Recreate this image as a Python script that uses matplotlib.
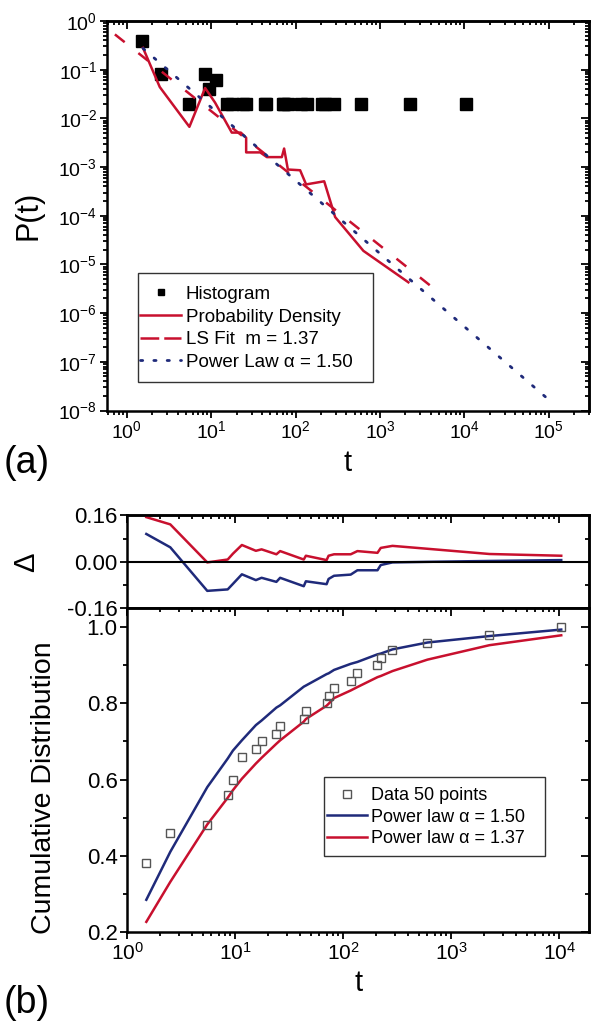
import matplotlib
matplotlib.use("Agg")
import matplotlib.pyplot as plt
from matplotlib.ticker import LogLocator, MultipleLocator, NullFormatter, FormatStrFormatter
from matplotlib.lines import Line2D
from matplotlib.patches import Rectangle

plt.rcParams['font.family'] = ['Liberation Sans', 'DejaVu Sans']
plt.rcParams['mathtext.fontset'] = 'custom'
plt.rcParams['mathtext.rm'] = 'Liberation Sans'
plt.rcParams['mathtext.default'] = 'regular'
plt.rcParams['axes.unicode_minus'] = False

RED = '#c8102e'
BLUE = '#1f2a7a'

# ---- panel (a) data ----
hist_t = [1.5, 2.5, 8.5, 9.5, 11.5, 5.5, 15.5, 17.5, 24, 26, 43, 45, 70, 73, 82,
          117, 135, 207, 222, 285, 600, 2250, 10400]
hist_p = [0.38, 0.08, 0.08, 0.04, 0.06, 0.02, 0.02, 0.02, 0.02, 0.02, 0.02, 0.02,
          0.02, 0.02, 0.02, 0.02, 0.02, 0.02, 0.02, 0.02, 0.02, 0.02, 0.02]

pd_t = [1.55, 2.45, 5.5, 8.45, 11.1, 17.5, 22.4, 25.9, 25.9, 38, 45.6, 68.6, 73,
        80.9, 113, 133, 218, 294, 636, 2170]
pd_p = [0.28, 0.044, 0.0067, 0.042, 0.021, 0.0051, 0.0051, 0.0040, 0.0020, 0.0020,
        0.0016, 0.0016, 0.0024, 0.00089, 0.00086, 0.00044, 0.00051, 9.4e-5, 1.9e-5, 4.3e-6]

ls_t = [0.72, 5000]
ls_p = [0.53, 2.65e-6]

pl_t = [1.55, 1e5]
pl_p = [0.274, 1.67e-8]

# ---- panel (b) data ----
cdf_t = [1.5, 2.5, 5.5, 8.5, 9.5, 11.5, 15.5, 17.5, 24, 26, 43, 45, 70, 73, 82,
         117, 135, 207, 222, 285, 600, 2250, 10400]
cdf_data = [0.38, 0.46, 0.48, 0.56, 0.60, 0.66, 0.68, 0.70, 0.72, 0.74, 0.76, 0.78,
            0.80, 0.82, 0.84, 0.86, 0.88, 0.90, 0.92, 0.94, 0.96, 0.98, 1.00]
fit_150 = [0.284, 0.410, 0.580, 0.655, 0.676, 0.703, 0.743, 0.755, 0.789, 0.795, 0.844,
           0.847, 0.877, 0.879, 0.888, 0.904, 0.909, 0.929, 0.931, 0.942, 0.960, 0.977, 0.994]
fit_137 = [0.226, 0.331, 0.482, 0.552, 0.572, 0.602, 0.642, 0.657, 0.694, 0.703, 0.752,
           0.759, 0.794, 0.799, 0.814, 0.834, 0.843, 0.869, 0.872, 0.885, 0.915, 0.953, 0.979]
delta_150 = [d - f for d, f in zip(cdf_data, fit_150)]
delta_137 = [d - f for d, f in zip(cdf_data, fit_137)]


def style(ax, tick_size):
    for s in ax.spines.values():
        s.set_linewidth(1.8)
    ax.tick_params(which='both', direction='out', width=1.3, labelsize=tick_size, pad=2)
    ax.tick_params(which='major', length=5)
    ax.tick_params(which='minor', length=3)
    # top and right ticks point inwards
    top = ax.secondary_xaxis('top')
    top.tick_params(which='both', direction='in', width=1.3, labeltop=False)
    top.tick_params(which='major', length=5.5)
    top.tick_params(which='minor', length=3)
    top.spines['top'].set_linewidth(1.8)
    right = ax.secondary_yaxis('right')
    right.tick_params(which='both', direction='in', width=1.3, labelright=False)
    right.tick_params(which='major', length=5.5)
    right.tick_params(which='minor', length=3)
    right.spines['right'].set_linewidth(1.8)
    return top, right


fig = plt.figure(figsize=(5.94, 10.23), dpi=100)

# ---------------- (a) ----------------
ax1 = fig.add_axes([0.1801, 0.5987, 0.8114, 0.3808])
ax1.set_xscale('log')
ax1.set_yscale('log')
ax1.plot(hist_t, hist_p, 's', color='black', markersize=9, zorder=3)
ax1.plot(pd_t, pd_p, '-', color=RED, lw=1.8, zorder=4)
ax1.plot(ls_t, ls_p, color=RED, lw=1.8, linestyle=(0, (5, 7)), zorder=4)
ax1.plot(pl_t, pl_p, color=BLUE, lw=2.0, linestyle=(0, (0.8, 4.5)), dash_capstyle='round', zorder=4)
ax1.set_xlim(0.58, 3.0e5)
ax1.set_ylim(1e-8, 1)
for axis in (ax1.xaxis, ax1.yaxis):
    axis.set_major_locator(LogLocator(base=10, numticks=20))
    axis.set_minor_locator(LogLocator(base=10, subs=range(2, 10), numticks=20))
    axis.set_minor_formatter(NullFormatter())
t1, r1 = style(ax1, 14)
for sec in (t1.xaxis, r1.yaxis):
    sec.set_major_locator(LogLocator(base=10, numticks=20))
    sec.set_minor_locator(LogLocator(base=10, subs=range(2, 10), numticks=20))
    sec.set_minor_formatter(NullFormatter())
ax1.set_ylabel('P(t)', fontsize=22)
ax1.yaxis.set_label_coords(-0.132, 0.5)
ax1.set_xlabel('t', fontsize=21)
ax1.xaxis.set_label_coords(0.5, -0.10)

handles_a = [
    Line2D([], [], marker='s', color='black', linestyle='none', markersize=4.5),
    Line2D([], [], color=RED, lw=1.8),
    Line2D([], [], color=RED, lw=1.8, linestyle=(0, (7.5, 2))),
    Line2D([], [], color=BLUE, lw=2.0, linestyle=(0, (0.8, 4.0)), dash_capstyle='round'),
]
labels_a = ['Histogram', 'Probability Density', 'LS Fit  m = 1.37', 'Power Law α = 1.50']
ax1.add_patch(Rectangle((0.0635, 0.074), 0.4875, 0.278, transform=ax1.transAxes,
                        fill=False, edgecolor='#333333', lw=1.0, zorder=5))
ax1.legend(handles_a, labels_a, loc='upper left', bbox_to_anchor=(0.0685, 0.32),
           borderaxespad=0, borderpad=0, frameon=False, fontsize=13.5,
           handlelength=2.2, handletextpad=0.25, labelspacing=0.29)
fig.text(0.006, 0.547, '(a)', fontsize=27, va='center', ha='left')

# ---------------- (b) delta ----------------
ax2 = fig.add_axes([0.2143, 0.4054, 0.7773, 0.0908])
ax2.set_xscale('log')
ax2.plot(cdf_t, delta_137, color=RED, lw=1.8)
ax2.plot(cdf_t, delta_150, color=BLUE, lw=1.8)
ax2.axhline(0, color='black', lw=1.5)
ax2.set_xlim(1, 1.88e4)
ax2.set_ylim(-0.16, 0.16)
ax2.yaxis.set_major_locator(MultipleLocator(0.16))
ax2.yaxis.set_minor_locator(MultipleLocator(0.08))
ax2.yaxis.set_major_formatter(FormatStrFormatter('%.2f'))
ax2.xaxis.set_major_locator(LogLocator(base=10, numticks=20))
ax2.xaxis.set_minor_locator(LogLocator(base=10, subs=range(2, 10), numticks=20))
ax2.xaxis.set_minor_formatter(NullFormatter())
t2, r2 = style(ax2, 16)
ax2.tick_params(labelbottom=False)
t2.xaxis.set_major_locator(LogLocator(base=10, numticks=20))
t2.xaxis.set_minor_locator(LogLocator(base=10, subs=range(2, 10), numticks=20))
t2.xaxis.set_minor_formatter(NullFormatter())
r2.yaxis.set_major_locator(MultipleLocator(0.16))
r2.yaxis.set_minor_locator(MultipleLocator(0.08))
ax2.set_ylabel('Δ', fontsize=21)
ax2.yaxis.set_label_coords(-0.189, 0.5)

# ---------------- (b) cumulative ----------------
ax3 = fig.add_axes([0.2143, 0.0892, 0.7773, 0.3162])
ax3.set_xscale('log')
ax3.plot(cdf_t, fit_150, color=BLUE, lw=1.8, label='Power law α = 1.50')
ax3.plot(cdf_t, fit_137, color=RED, lw=1.8, label='Power law α = 1.37')
ax3.plot(cdf_t, cdf_data, 's', mfc='none', mec='#555555', mew=1.0, markersize=6,
         label='Data 50 points', zorder=4)
ax3.set_xlim(1, 1.88e4)
ax3.set_ylim(0.2, 1.05)
ax3.yaxis.set_major_locator(MultipleLocator(0.2))
ax3.yaxis.set_minor_locator(MultipleLocator(0.1))
ax3.yaxis.set_major_formatter(FormatStrFormatter('%.1f'))
ax3.xaxis.set_major_locator(LogLocator(base=10, numticks=20))
ax3.xaxis.set_minor_locator(LogLocator(base=10, subs=range(2, 10), numticks=20))
ax3.xaxis.set_minor_formatter(NullFormatter())
t3, r3 = style(ax3, 16)
ax3.tick_params(axis='x', labelsize=15)
t3.xaxis.set_major_locator(LogLocator(base=10, numticks=20))
t3.xaxis.set_minor_locator(LogLocator(base=10, subs=range(2, 10), numticks=20))
t3.xaxis.set_minor_formatter(NullFormatter())
r3.yaxis.set_major_locator(MultipleLocator(0.2))
r3.yaxis.set_minor_locator(MultipleLocator(0.1))
ax3.set_ylabel('Cumulative Distribution', fontsize=20.5)
ax3.yaxis.set_label_coords(-0.152, 0.444)
ax3.set_xlabel('t', fontsize=21)
ax3.xaxis.set_label_coords(0.5, -0.115)

h, l = ax3.get_legend_handles_labels()
order = [2, 0, 1]
ax3.add_patch(Rectangle((0.426, 0.234), 0.4776, 0.245, transform=ax3.transAxes,
                        fill=False, edgecolor='#333333', lw=1.0, zorder=5))
ax3.legend([h[i] for i in order], [l[i] for i in order], loc='upper left',
           bbox_to_anchor=(0.4325, 0.446), borderaxespad=0, borderpad=0,
           frameon=False, fontsize=13, handlelength=2.2, handletextpad=0.25,
           labelspacing=0.24)
fig.text(0.006, 0.02, '(b)', fontsize=27, va='center', ha='left')

fig.savefig('out.png', dpi=100)
